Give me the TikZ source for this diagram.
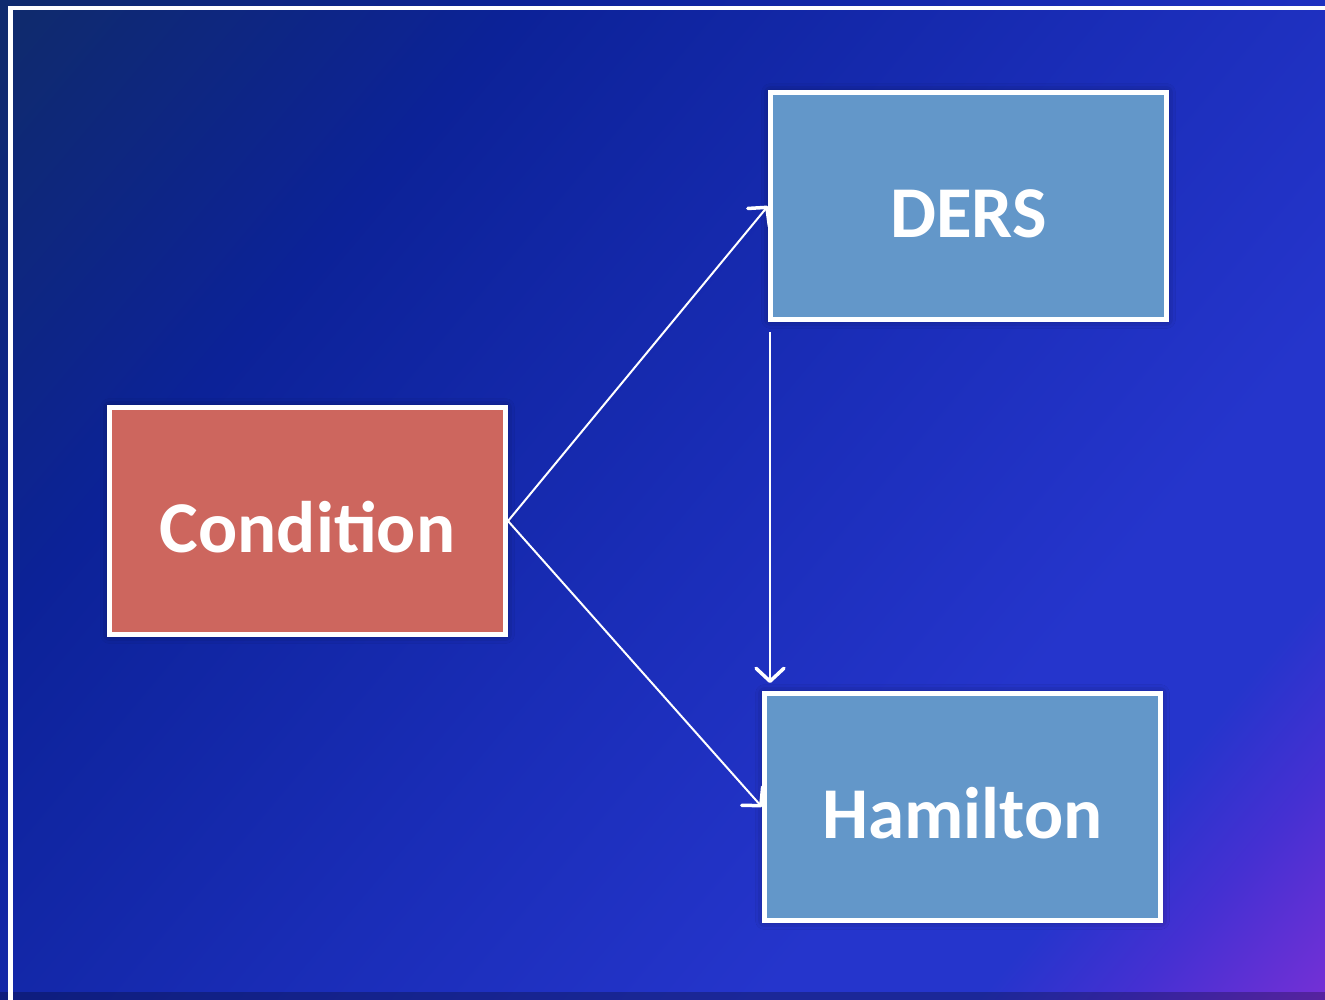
\documentclass[tikz,border=0pt]{standalone}
\usepackage{fontspec}
\setmainfont{Carlito}
\usetikzlibrary{arrows.meta,shadows.blur}
\definecolor{bgA}{HTML}{0F2A6E}
\definecolor{bgB}{HTML}{0C2298}
\definecolor{bgC}{HTML}{1A2DB8}
\definecolor{bgD}{HTML}{2535CC}
\definecolor{bgF}{HTML}{4530D2}
\definecolor{bgE}{HTML}{7A30D6}
\definecolor{condfill}{HTML}{CD665E}
\definecolor{bluefill}{HTML}{6397C9}
\pgfdeclarehorizontalshading{bgshade}{100bp}{color(0bp)=(bgA); color(16bp)=(bgA); color(32bp)=(bgB); color(52bp)=(bgC); color(67bp)=(bgD); color(74bp)=(bgD); color(79bp)=(bgF); color(86bp)=(bgE); color(100bp)=(bgE)}
\tikzset{
  box/.style={draw=white, line width=5pt, minimum width=396pt, minimum height=227pt,
    text=white, font=\bfseries\fontsize{73}{78}\selectfont, inner sep=0pt,
    text height=63pt, text depth=0pt,
    blur shadow={shadow xshift=0pt, shadow yshift=0pt, shadow blur radius=9pt, shadow opacity=45}},
  conn/.style={white, line width=2pt, -{Straight Barb[length=13pt,width=28pt,line width=3.5pt,round]}}
}
\begin{document}
\begin{tikzpicture}[x=1pt,y=-1pt]
\useasboundingbox (0,0) rectangle (1325,1000);
\fill[shading=bgshade, shading angle=-40] (0,0) rectangle (1325,1000);
\fill[black, opacity=0.25] (0,992) rectangle (1325,1000);
\draw[white, line width=4.5pt] (10.5,1010) -- (10.5,8) -- (1340,8);
\node[box, fill=condfill] (cond) at (307.5,521) {Condition};
\node[box, fill=bluefill] (ders) at (968.5,206) {DERS};
\node[box, fill=bluefill] (ham) at (962.5,807) {Hamilton};
\coordinate (vs) at ([xshift=2pt,yshift=-10pt]ders.south west);
\coordinate (ve) at ([xshift=8pt,yshift=8pt]ham.north west);
\draw[conn] (cond.east) -- (ders.west);
\draw[conn] (cond.east) -- (ham.west);
\draw[conn] (vs) -- (ve);
\end{tikzpicture}
\end{document}
